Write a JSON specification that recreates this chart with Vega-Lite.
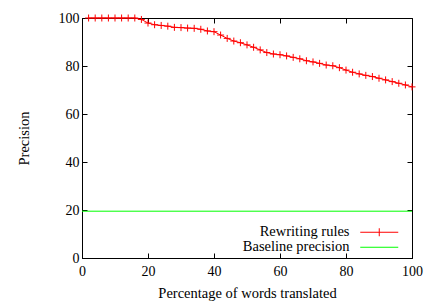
{
  "$schema": "https://vega.github.io/schema/vega-lite/v6.json",
  "width": 330,
  "height": 240,
  "autosize": {"type": "none"},
  "padding": {"left": 82, "top": 18, "right": 23, "bottom": 44},
  "background": "white",
  "datasets": {
    "series": [
      {"series": "Rewriting rules", "pct": 2, "precision": 100},
      {"series": "Rewriting rules", "pct": 4, "precision": 100},
      {"series": "Rewriting rules", "pct": 6, "precision": 100},
      {"series": "Rewriting rules", "pct": 8, "precision": 100},
      {"series": "Rewriting rules", "pct": 10, "precision": 100},
      {"series": "Rewriting rules", "pct": 12, "precision": 100},
      {"series": "Rewriting rules", "pct": 14, "precision": 100},
      {"series": "Rewriting rules", "pct": 16, "precision": 100},
      {"series": "Rewriting rules", "pct": 18, "precision": 99.4},
      {"series": "Rewriting rules", "pct": 20, "precision": 97.9},
      {"series": "Rewriting rules", "pct": 22, "precision": 97.2},
      {"series": "Rewriting rules", "pct": 24, "precision": 96.9},
      {"series": "Rewriting rules", "pct": 26, "precision": 96.6},
      {"series": "Rewriting rules", "pct": 28, "precision": 96.1},
      {"series": "Rewriting rules", "pct": 30, "precision": 96.0},
      {"series": "Rewriting rules", "pct": 32, "precision": 95.8},
      {"series": "Rewriting rules", "pct": 34, "precision": 95.7},
      {"series": "Rewriting rules", "pct": 36, "precision": 95.3},
      {"series": "Rewriting rules", "pct": 38, "precision": 94.6},
      {"series": "Rewriting rules", "pct": 40, "precision": 94.3},
      {"series": "Rewriting rules", "pct": 42, "precision": 92.9},
      {"series": "Rewriting rules", "pct": 44, "precision": 91.5},
      {"series": "Rewriting rules", "pct": 46, "precision": 90.4},
      {"series": "Rewriting rules", "pct": 48, "precision": 89.7},
      {"series": "Rewriting rules", "pct": 50, "precision": 88.8},
      {"series": "Rewriting rules", "pct": 52, "precision": 87.8},
      {"series": "Rewriting rules", "pct": 54, "precision": 86.7},
      {"series": "Rewriting rules", "pct": 56, "precision": 85.6},
      {"series": "Rewriting rules", "pct": 58, "precision": 85.0},
      {"series": "Rewriting rules", "pct": 60, "precision": 84.7},
      {"series": "Rewriting rules", "pct": 62, "precision": 84.2},
      {"series": "Rewriting rules", "pct": 64, "precision": 83.6},
      {"series": "Rewriting rules", "pct": 66, "precision": 83.0},
      {"series": "Rewriting rules", "pct": 68, "precision": 82.2},
      {"series": "Rewriting rules", "pct": 70, "precision": 81.7},
      {"series": "Rewriting rules", "pct": 72, "precision": 81.1},
      {"series": "Rewriting rules", "pct": 74, "precision": 80.4},
      {"series": "Rewriting rules", "pct": 76, "precision": 80.1},
      {"series": "Rewriting rules", "pct": 78, "precision": 79.3},
      {"series": "Rewriting rules", "pct": 80, "precision": 78.3},
      {"series": "Rewriting rules", "pct": 82, "precision": 77.4},
      {"series": "Rewriting rules", "pct": 84, "precision": 76.7},
      {"series": "Rewriting rules", "pct": 86, "precision": 76.1},
      {"series": "Rewriting rules", "pct": 88, "precision": 75.6},
      {"series": "Rewriting rules", "pct": 90, "precision": 74.9},
      {"series": "Rewriting rules", "pct": 92, "precision": 74.2},
      {"series": "Rewriting rules", "pct": 94, "precision": 73.5},
      {"series": "Rewriting rules", "pct": 96, "precision": 72.8},
      {"series": "Rewriting rules", "pct": 98, "precision": 72.1},
      {"series": "Rewriting rules", "pct": 100, "precision": 71.3},
      {"series": "Baseline precision", "pct": 0, "precision": 19.5},
      {"series": "Baseline precision", "pct": 100, "precision": 19.5}
    ]
  },
  "data": {"name": "series"},
  "config": {
    "font": "Liberation Serif",
    "view": {"stroke": "black", "strokeWidth": 1},
    "axis": {
      "grid": false,
      "domainColor": "black",
      "tickColor": "black",
      "labelColor": "black",
      "titleColor": "black",
      "labelFont": "Liberation Serif",
      "titleFont": "Liberation Serif",
      "labelFontSize": 14,
      "titleFontSize": 14,
      "titleFontWeight": "normal",
      "tickSize": -5
    },
    "legend": {
      "labelFont": "Liberation Serif",
      "labelFontSize": 14.5,
      "labelColor": "black"
    }
  },
  "layer": [
    {
      "mark": {"type": "line", "strokeWidth": 1, "clip": false},
      "encoding": {
        "x": {
          "field": "pct",
          "type": "quantitative",
          "scale": {"domain": [0, 100], "nice": false, "zero": false},
          "axis": {"orient": "bottom", "values": [0, 20, 40, 60, 80, 100], "title": "Percentage of words translated", "titleFontSize": 14.5, "labelPadding": 11, "labelDx": 1.5, "titlePadding": 8, "labelFlush": false}
        },
        "y": {
          "field": "precision",
          "type": "quantitative",
          "scale": {"domain": [0, 100], "nice": false, "zero": false},
          "axis": {"orient": "left", "values": [0, 20, 40, 60, 80, 100], "title": "Precision", "titleFontSize": 14.5, "labelPadding": 8, "titlePadding": 27}
        },
        "color": {
          "field": "series",
          "type": "nominal",
          "scale": {"domain": ["Rewriting rules", "Baseline precision"], "range": ["#ff0000", "#00ff00"]},
          "legend": {
            "title": null,
            "orient": "none",
            "legendX": 290,
            "legendY": 207,
            "labelAlign": "right",
            "labelOffset": -37,
            "rowPadding": 0,
            "symbolSize": 64,
            "symbolStrokeWidth": 1,
            "padding": 0,
            "encode": {
              "symbols": {
                "update": {
                  "shape": {"signal": "datum.value == 'Rewriting rules' ? 'M-4.75,0H4.75M0,-1V1' : 'M-4.75,0H4.75'"},
                  "size": {"value": 64},
                  "strokeWidth": {"value": 1},
                  "fill": {"value": "transparent"}
                }
              }
            }
          }
        }
      }
    },
    {
      "transform": [{"filter": "datum.series == 'Rewriting rules'"}],
      "mark": {"type": "point", "shape": "M-1,0H1M0,-1V1", "size": 49, "filled": false, "stroke": "#ff0000", "strokeWidth": 1, "opacity": 1},
      "encoding": {
        "x": {
          "field": "pct",
          "type": "quantitative",
          "axis": {"orient": "top", "values": [0, 20, 40, 60, 80, 100], "labels": false, "domain": false, "title": null}
        },
        "y": {
          "field": "precision",
          "type": "quantitative",
          "axis": {"orient": "right", "values": [0, 20, 40, 60, 80, 100], "labels": false, "domain": false, "title": null}
        }
      }
    }
  ]
}
